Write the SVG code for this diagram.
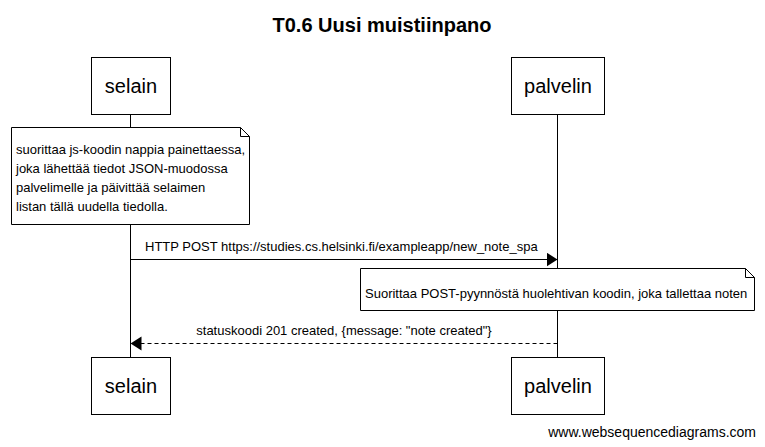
<svg xmlns="http://www.w3.org/2000/svg" width="765" height="447" viewBox="0 0 765 447">
<defs>
<style>
text{font-family:"Liberation Sans",Arial,sans-serif;fill:#000}
.box{fill:#fff;stroke:#000;stroke-width:1}
.actor{font-size:20px;text-anchor:middle}
.small{font-size:13px}
.life{stroke:#000;stroke-width:1}
.msg{stroke:#000;stroke-width:1;fill:none}
</style>
<marker id="ah" markerWidth="12" markerHeight="16" refX="11" refY="7" orient="auto" markerUnits="userSpaceOnUse">
<path d="M0,0 L11,7 L0,14 z" fill="#000"/>
</marker>
</defs>
<rect width="765" height="447" fill="#fff"/>
<text x="382" y="32" font-size="20" font-weight="bold" text-anchor="middle">T0.6 Uusi muistiinpano</text>
<g id="connectors">
<line class="life" x1="130.5" y1="114" x2="130.5" y2="357"/>
<line class="life" x1="557.5" y1="114" x2="557.5" y2="357"/>
<line class="msg" x1="130.5" y1="259.5" x2="557.5" y2="259.5" marker-end="url(#ah)"/>
<text class="small" x="145" y="251">HTTP POST https://studies.cs.helsinki.fi/exampleapp/new_note_spa</text>
<line class="msg" x1="557.5" y1="343.5" x2="130.5" y2="343.5" stroke-dasharray="4,3" marker-end="url(#ah)"/>
<text class="small" x="344" y="335" text-anchor="middle">statuskoodi 201 created, {message: "note created"}</text>
</g>
<g id="selain">
<rect class="box" x="91.5" y="57.5" width="79" height="57"/>
<text class="actor" x="131" y="93">selain</text>
</g>
<g id="palvelin">
<rect class="box" x="511.5" y="57.5" width="93" height="57"/>
<text class="actor" x="558" y="93">palvelin</text>
</g>
<g id="note1">
<path class="box" d="M11.5,127.5 H240.5 L249.5,136.5 V224.5 H11.5 Z"/>
<path d="M240.5,127.5 V136.5 H249.5" fill="none" stroke="#000"/>
<text class="small" x="16" y="154">suorittaa js-koodin nappia painettaessa,</text>
<text class="small" x="16" y="173">joka lähettää tiedot JSON-muodossa</text>
<text class="small" x="16" y="192">palvelimelle ja päivittää selaimen</text>
<text class="small" x="16" y="211">listan tällä uudella tiedolla.</text>
</g>
<g id="note2">
<path class="box" d="M360.5,268.5 H745.5 L754.5,277.5 V310.5 H360.5 Z"/>
<path d="M745.5,268.5 V277.5 H754.5" fill="none" stroke="#000"/>
<text class="small" x="365" y="298">Suorittaa POST-pyynnöstä huolehtivan koodin, joka tallettaa noten</text>
</g>
<g id="selain-bottom">
<rect class="box" x="91.5" y="357.5" width="79" height="57"/>
<text class="actor" x="131" y="393">selain</text>
</g>
<g id="palvelin-bottom">
<rect class="box" x="511.5" y="357.5" width="93" height="57"/>
<text class="actor" x="558" y="393">palvelin</text>
</g>
<text x="756" y="437" font-size="14" text-anchor="end">www.websequencediagrams.com</text>
</svg>
